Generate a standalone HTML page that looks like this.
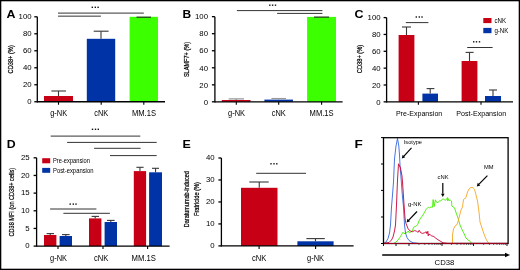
<!DOCTYPE html>
<html><head><meta charset="utf-8"><style>
html,body{margin:0;padding:0;background:#fff;}
svg{display:block;will-change:transform;}
text{font-family:'Liberation Sans',sans-serif;}
</style></head><body>
<svg width="520" height="270" viewBox="0 0 520 270" style="font-family:'Liberation Sans',sans-serif">
<rect x="0" y="0" width="520" height="270" fill="#fff"/>
<text x="6.6" y="18.2" font-size="10.8" font-weight="bold" textLength="9.0" lengthAdjust="spacingAndGlyphs" fill="#000">A</text>
<rect x="44" y="96" width="29" height="5.75" fill="#c70016"/>
<line x1="58.5" y1="91" x2="58.5" y2="96" stroke="#383838" stroke-width="1.1"/>
<line x1="51.4" y1="91" x2="66" y2="91" stroke="#383838" stroke-width="1.1"/>
<rect x="86.8" y="38.8" width="28.4" height="62.95" fill="#0033a5"/>
<line x1="101.0" y1="31.2" x2="101.0" y2="38.8" stroke="#383838" stroke-width="1.1"/>
<line x1="93.7" y1="31.2" x2="108.6" y2="31.2" stroke="#383838" stroke-width="1.1"/>
<rect x="129.6" y="16.8" width="28.4" height="84.95" fill="#3cff00"/>
<line x1="136.5" y1="17.2" x2="151" y2="17.2" stroke="#222" stroke-width="1.1"/>
<line x1="58" y1="13.1" x2="143.8" y2="13.1" stroke="#333" stroke-width="1"/>
<line x1="58" y1="16.15" x2="100.9" y2="16.15" stroke="#333" stroke-width="1"/>
<rect x="91.60" y="6.60" width="1.4" height="1.4" fill="#111"/>
<rect x="94.60" y="6.60" width="1.4" height="1.4" fill="#111"/>
<rect x="97.40" y="6.60" width="1.4" height="1.4" fill="#111"/>
<text x="58.7" y="116.2" font-size="8.5" text-anchor="middle" textLength="17" lengthAdjust="spacingAndGlyphs" fill="#000">g-NK</text>
<text x="101.2" y="116.2" font-size="8.5" text-anchor="middle" textLength="14" lengthAdjust="spacingAndGlyphs" fill="#000">cNK</text>
<text x="144" y="116.2" font-size="8.5" text-anchor="middle" textLength="24" lengthAdjust="spacingAndGlyphs" fill="#000">MM.1S</text>
<text x="13.2" y="59.3" font-size="7" text-anchor="middle" textLength="28.2" lengthAdjust="spacingAndGlyphs" transform="rotate(-90 13.2 59.3)" fill="#000" stroke="#000" stroke-width="0.22">CD38+ (%)</text>
<text x="182.5" y="18.2" font-size="10.8" font-weight="bold" textLength="8.7" lengthAdjust="spacingAndGlyphs" fill="#000">B</text>
<rect x="221.8" y="100.0" width="28.7" height="1.8" fill="#c70016"/>
<line x1="236.15" y1="98.9" x2="236.15" y2="100.0" stroke="#888" stroke-width="1.1"/>
<line x1="228.7" y1="98.9" x2="244" y2="98.9" stroke="#888" stroke-width="1.1"/>
<rect x="264.4" y="99.6" width="28.6" height="2.2" fill="#0033a5"/>
<line x1="278.7" y1="98.5" x2="278.7" y2="99.6" stroke="#999" stroke-width="1.1"/>
<line x1="271.4" y1="98.5" x2="286" y2="98.5" stroke="#999" stroke-width="1.1"/>
<rect x="307.1" y="16.9" width="28.9" height="84.9" fill="#3cff00"/>
<line x1="314" y1="17.1" x2="329.1" y2="17.1" stroke="#222" stroke-width="1.1"/>
<line x1="236.9" y1="10.6" x2="322.4" y2="10.6" stroke="#333" stroke-width="1"/>
<line x1="277.1" y1="13.4" x2="322.4" y2="13.4" stroke="#333" stroke-width="1"/>
<rect x="269.10" y="4.50" width="1.4" height="1.4" fill="#111"/>
<rect x="271.90" y="4.50" width="1.4" height="1.4" fill="#111"/>
<rect x="274.80" y="4.50" width="1.4" height="1.4" fill="#111"/>
<text x="236.5" y="116.2" font-size="8.5" text-anchor="middle" textLength="17" lengthAdjust="spacingAndGlyphs" fill="#000">g-NK</text>
<text x="278.8" y="116.2" font-size="8.5" text-anchor="middle" textLength="14" lengthAdjust="spacingAndGlyphs" fill="#000">cNK</text>
<text x="321.6" y="116.2" font-size="8.5" text-anchor="middle" textLength="24" lengthAdjust="spacingAndGlyphs" fill="#000">MM.1S</text>
<text x="189.0" y="59.5" font-size="6.9" text-anchor="middle" textLength="35.2" lengthAdjust="spacingAndGlyphs" transform="rotate(-90 189.0 59.5)" fill="#000" stroke="#000" stroke-width="0.22">SLAMF7+ (%)</text>
<text x="354.6" y="18.2" font-size="10.8" font-weight="bold" textLength="9.0" lengthAdjust="spacingAndGlyphs" fill="#000">C</text>
<rect x="398.6" y="35" width="15.8" height="66.85" fill="#c70016"/>
<line x1="406.5" y1="27" x2="406.5" y2="35" stroke="#383838" stroke-width="1.1"/>
<line x1="402" y1="27" x2="411" y2="27" stroke="#383838" stroke-width="1.1"/>
<rect x="422.4" y="93.6" width="15.6" height="8.25" fill="#0033a5"/>
<line x1="430.2" y1="88.6" x2="430.2" y2="93.6" stroke="#383838" stroke-width="1.1"/>
<line x1="426.6" y1="88.6" x2="434.4" y2="88.6" stroke="#383838" stroke-width="1.1"/>
<rect x="461.6" y="61" width="15.8" height="40.85" fill="#c70016"/>
<line x1="469.5" y1="52.4" x2="469.5" y2="61" stroke="#383838" stroke-width="1.1"/>
<line x1="465.6" y1="52.4" x2="473.6" y2="52.4" stroke="#383838" stroke-width="1.1"/>
<rect x="485" y="96" width="16" height="5.85" fill="#0033a5"/>
<line x1="493.0" y1="90" x2="493.0" y2="96" stroke="#383838" stroke-width="1.1"/>
<line x1="489" y1="90" x2="497" y2="90" stroke="#383838" stroke-width="1.1"/>
<line x1="405.8" y1="22.6" x2="428.4" y2="22.6" stroke="#333" stroke-width="1"/>
<rect x="415.60" y="16.30" width="1.4" height="1.4" fill="#111"/>
<rect x="418.60" y="16.30" width="1.4" height="1.4" fill="#111"/>
<rect x="421.30" y="16.30" width="1.4" height="1.4" fill="#111"/>
<line x1="467.2" y1="47.5" x2="492.6" y2="47.5" stroke="#333" stroke-width="1"/>
<rect x="473.00" y="41.10" width="1.4" height="1.4" fill="#111"/>
<rect x="475.80" y="41.10" width="1.4" height="1.4" fill="#111"/>
<rect x="478.80" y="41.10" width="1.4" height="1.4" fill="#111"/>
<rect x="483.3" y="18.0" width="8.2" height="5.1" fill="#c70016"/>
<rect x="483.3" y="27.9" width="8.2" height="5.3" fill="#0033a5"/>
<text x="494.4" y="23.2" font-size="6.8" textLength="11.6" lengthAdjust="spacingAndGlyphs" fill="#000">cNK</text>
<text x="494.4" y="33.2" font-size="6.8" textLength="14" lengthAdjust="spacingAndGlyphs" fill="#000">g-NK</text>
<text x="419.1" y="116.1" font-size="7.4" text-anchor="middle" textLength="46.4" lengthAdjust="spacingAndGlyphs" fill="#000">Pre-Expansion</text>
<text x="481.2" y="116.1" font-size="7.4" text-anchor="middle" textLength="49.8" lengthAdjust="spacingAndGlyphs" fill="#000">Post-Expansion</text>
<text x="362.3" y="59.0" font-size="7" text-anchor="middle" textLength="28.4" lengthAdjust="spacingAndGlyphs" transform="rotate(-90 362.3 59.0)" fill="#000" stroke="#000" stroke-width="0.22">CD38+ (%)</text>
<text x="6.7" y="148.2" font-size="10.8" font-weight="bold" textLength="8.9" lengthAdjust="spacingAndGlyphs" fill="#000">D</text>
<rect x="44" y="235" width="12.4" height="11.1" fill="#c70016"/>
<line x1="50.2" y1="233.6" x2="50.2" y2="235" stroke="#383838" stroke-width="1.1"/>
<line x1="46.6" y1="233.6" x2="54" y2="233.6" stroke="#383838" stroke-width="1.1"/>
<rect x="59.6" y="236" width="12.4" height="10.1" fill="#0033a5"/>
<line x1="65.8" y1="234.6" x2="65.8" y2="236" stroke="#383838" stroke-width="1.1"/>
<line x1="62" y1="234.6" x2="69.6" y2="234.6" stroke="#383838" stroke-width="1.1"/>
<rect x="89" y="218.4" width="12.4" height="27.7" fill="#c70016"/>
<line x1="95.2" y1="216.4" x2="95.2" y2="218.4" stroke="#383838" stroke-width="1.1"/>
<line x1="91.6" y1="216.4" x2="99" y2="216.4" stroke="#383838" stroke-width="1.1"/>
<rect x="104.6" y="222" width="12.4" height="24.1" fill="#0033a5"/>
<line x1="110.8" y1="220.4" x2="110.8" y2="222" stroke="#383838" stroke-width="1.1"/>
<line x1="107" y1="220.4" x2="114.6" y2="220.4" stroke="#383838" stroke-width="1.1"/>
<rect x="133.8" y="171.1" width="12.3" height="75.0" fill="#c70016"/>
<line x1="139.95" y1="167.3" x2="139.95" y2="171.1" stroke="#383838" stroke-width="1.1"/>
<line x1="136.4" y1="167.3" x2="143.6" y2="167.3" stroke="#383838" stroke-width="1.1"/>
<rect x="149.1" y="172.3" width="12.9" height="73.8" fill="#0033a5"/>
<line x1="155.55" y1="168.3" x2="155.55" y2="172.3" stroke="#383838" stroke-width="1.1"/>
<line x1="152" y1="168.3" x2="159" y2="168.3" stroke="#383838" stroke-width="1.1"/>
<rect x="91.80" y="128.60" width="1.4" height="1.4" fill="#111"/>
<rect x="94.80" y="128.60" width="1.4" height="1.4" fill="#111"/>
<rect x="97.60" y="128.60" width="1.4" height="1.4" fill="#111"/>
<line x1="50.7" y1="136.1" x2="140.3" y2="136.1" stroke="#333" stroke-width="1"/>
<line x1="67.1" y1="142.4" x2="156.7" y2="142.4" stroke="#333" stroke-width="1"/>
<line x1="94.1" y1="148.3" x2="140.6" y2="148.3" stroke="#333" stroke-width="1"/>
<line x1="110" y1="155.6" x2="156.7" y2="155.6" stroke="#333" stroke-width="1"/>
<rect x="69.50" y="203.40" width="1.4" height="1.4" fill="#111"/>
<rect x="72.60" y="203.40" width="1.4" height="1.4" fill="#111"/>
<rect x="75.30" y="203.40" width="1.4" height="1.4" fill="#111"/>
<line x1="50.1" y1="209.0" x2="96.4" y2="209.0" stroke="#333" stroke-width="1"/>
<line x1="63.4" y1="213.3" x2="109.9" y2="213.3" stroke="#333" stroke-width="1"/>
<rect x="42.2" y="158.2" width="8.0" height="5.1" fill="#c70016"/>
<rect x="42.2" y="167.9" width="8.0" height="4.9" fill="#0033a5"/>
<text x="53" y="163.2" font-size="6.6" textLength="37" lengthAdjust="spacingAndGlyphs" fill="#000">Pre-expansion</text>
<text x="53" y="172.8" font-size="6.6" textLength="40.4" lengthAdjust="spacingAndGlyphs" fill="#000">Post-expansion</text>
<text x="58.5" y="261.4" font-size="8.5" text-anchor="middle" textLength="17" lengthAdjust="spacingAndGlyphs" fill="#000">g-NK</text>
<text x="101.2" y="261.4" font-size="8.5" text-anchor="middle" textLength="14.4" lengthAdjust="spacingAndGlyphs" fill="#000">cNK</text>
<text x="143.8" y="261.4" font-size="8.5" text-anchor="middle" textLength="24.4" lengthAdjust="spacingAndGlyphs" fill="#000">MM.1S</text>
<text x="13.9" y="202.2" font-size="7" text-anchor="middle" textLength="68.6" lengthAdjust="spacingAndGlyphs" transform="rotate(-90 13.9 202.2)" fill="#000" stroke="#000" stroke-width="0.22">CD38 MFI (on CD38+ cells)</text>
<text x="182.5" y="148.2" font-size="10.8" font-weight="bold" textLength="8.3" lengthAdjust="spacingAndGlyphs" fill="#000">E</text>
<rect x="241" y="187.8" width="36.5" height="58.1" fill="#c70016"/>
<line x1="259.25" y1="182.0" x2="259.25" y2="187.8" stroke="#383838" stroke-width="1.1"/>
<line x1="249.3" y1="182.0" x2="268.7" y2="182.0" stroke="#383838" stroke-width="1.1"/>
<rect x="297.4" y="241.3" width="36.2" height="4.6" fill="#0033a5"/>
<line x1="315.5" y1="238.6" x2="315.5" y2="241.3" stroke="#383838" stroke-width="1.1"/>
<line x1="306.4" y1="238.6" x2="324.8" y2="238.6" stroke="#383838" stroke-width="1.1"/>
<line x1="256.2" y1="173.3" x2="306" y2="173.3" stroke="#333" stroke-width="1"/>
<rect x="270.30" y="163.10" width="1.4" height="1.4" fill="#111"/>
<rect x="273.30" y="163.10" width="1.4" height="1.4" fill="#111"/>
<rect x="276.10" y="163.10" width="1.4" height="1.4" fill="#111"/>
<text x="259.2" y="261.4" font-size="8.5" text-anchor="middle" textLength="14.4" lengthAdjust="spacingAndGlyphs" fill="#000">cNK</text>
<text x="315.5" y="261.4" font-size="8.5" text-anchor="middle" textLength="17" lengthAdjust="spacingAndGlyphs" fill="#000">g-NK</text>
<text x="188.8" y="199.2" font-size="6.6" text-anchor="middle" textLength="56" lengthAdjust="spacingAndGlyphs" transform="rotate(-90 188.8 199.2)" fill="#000" stroke="#000" stroke-width="0.22">Daratumumab-induced</text>
<text x="199.2" y="199" font-size="6.6" text-anchor="middle" textLength="34" lengthAdjust="spacingAndGlyphs" transform="rotate(-90 199.2 199)" fill="#000" stroke="#000" stroke-width="0.22">Fratricide (%)</text>
<text x="354.6" y="148.2" font-size="10.8" font-weight="bold" textLength="8.3" lengthAdjust="spacingAndGlyphs" fill="#000">F</text>
<polyline points="394,243.3 396,242 398,240 400.5,236.5 403,232.2 404,233.6 406.8,232.7 408.2,231 409.5,233.1 410.9,231.7 412.3,231 413.7,227.2 415.1,226.5 416.5,225.8 417.9,224.1 418.5,222 420,219 423,215 426.2,209.3 428.3,207.2 429.7,207.9 431.1,206.9 432.5,207.2 433.1,199.6 434.1,206.6 435.4,199.8 436.6,202.4 438,202.7 439.4,200.7 440.8,201 442.2,199.3 443.5,198.9 444.9,200.3 446.3,199.6 447.4,197.5 447.7,201 448.4,198.6 449.1,200.7 450.5,200.3 451.5,201 451.9,205.9 452.9,206.9 454.6,207.9 455.5,211 458,218 460,225 462,229.5 464,233.5 466,238 468,240 470,241.2 471.5,243.3" fill="none" stroke="#44ee00" stroke-width="0.9" stroke-linejoin="round"/>
<polyline points="452.5,243.3 452.5,235 453.5,229 455,226 457,224.5 458.5,220 460,214 461,210 462.5,207 463.5,199.5 466,197.5 467.5,192 469,189 471,187.4 473,187.6 474.5,189.5 475.5,193 476.5,197 477.5,201 478.2,206 479,212 480,222 482,228 484,234 486,239 488,242.5 489,243.3" fill="none" stroke="#f5a623" stroke-width="0.9" stroke-linejoin="round"/>
<polyline points="384,243.3 386,242 388,238.5 389.5,233 390.5,225 391.5,207 392.5,195 393.5,182 394.5,159 396,146 397.5,138.4 398.8,146 399.5,155 400,165 401.2,180 402.3,195 403.5,207 404.5,225 405.5,233 407,237.5 409,240.5 413,242.8 418,243.3" fill="none" stroke="#3366dd" stroke-width="0.9" stroke-linejoin="round"/>
<polyline points="384,243.3 389,242.5 391.5,240 393,237 394.5,231 395.5,225 396.5,205 397.5,180 398.5,163.8 400.5,168 402,176 402.5,182 404.2,207 405,218 405.6,222.5 408.2,228.9 410.2,231 412.3,231.7 414.4,230.7 416.5,231 417.9,232.4 419.2,230.3 420.6,232.7 422.7,233.4 424.8,232.7 426.2,231.7 426.9,233.8 427.9,231.3 428.2,235.9 428.9,234.1 430.3,234.8 431.7,235.9 433.8,236.5 435.9,238.3 437.9,239.7 440,241 443,242.8 448,243.3 508,243.3" fill="none" stroke="#cc0033" stroke-width="0.9" stroke-linejoin="round"/>
<rect x="383.5" y="137.7" width="124.6" height="105.8" fill="none" stroke="#000" stroke-width="1.3"/>
<line x1="384.2" y1="243.5" x2="507.5" y2="243.5" stroke="#a0001c" stroke-width="1.2"/>
<line x1="381" y1="137.6" x2="383.5" y2="137.6" stroke="#000" stroke-width="1"/>
<line x1="381" y1="164" x2="383.5" y2="164" stroke="#000" stroke-width="1"/>
<line x1="381" y1="190.4" x2="383.5" y2="190.4" stroke="#000" stroke-width="1"/>
<line x1="381" y1="217" x2="383.5" y2="217" stroke="#000" stroke-width="1"/>
<line x1="381" y1="243.5" x2="383.5" y2="243.5" stroke="#000" stroke-width="1"/>
<line x1="383.5" y1="243.5" x2="383.5" y2="246" stroke="#000" stroke-width="0.9"/>
<line x1="396" y1="243.5" x2="396" y2="246" stroke="#000" stroke-width="0.9"/>
<line x1="409" y1="243.5" x2="409" y2="246" stroke="#000" stroke-width="0.9"/>
<line x1="442" y1="243.5" x2="442" y2="246" stroke="#000" stroke-width="0.9"/>
<line x1="473.5" y1="243.5" x2="473.5" y2="246" stroke="#000" stroke-width="0.9"/>
<line x1="507" y1="243.5" x2="507" y2="246" stroke="#000" stroke-width="0.9"/>
<line x1="418.93" y1="243.5" x2="418.93" y2="245" stroke="#333" stroke-width="0.7"/>
<line x1="424.75" y1="243.5" x2="424.75" y2="245" stroke="#333" stroke-width="0.7"/>
<line x1="428.87" y1="243.5" x2="428.87" y2="245" stroke="#333" stroke-width="0.7"/>
<line x1="432.07" y1="243.5" x2="432.07" y2="245" stroke="#333" stroke-width="0.7"/>
<line x1="434.68" y1="243.5" x2="434.68" y2="245" stroke="#333" stroke-width="0.7"/>
<line x1="436.89" y1="243.5" x2="436.89" y2="245" stroke="#333" stroke-width="0.7"/>
<line x1="438.8" y1="243.5" x2="438.8" y2="245" stroke="#333" stroke-width="0.7"/>
<line x1="440.49" y1="243.5" x2="440.49" y2="245" stroke="#333" stroke-width="0.7"/>
<line x1="451.48" y1="243.5" x2="451.48" y2="245" stroke="#333" stroke-width="0.7"/>
<line x1="457.03" y1="243.5" x2="457.03" y2="245" stroke="#333" stroke-width="0.7"/>
<line x1="460.96" y1="243.5" x2="460.96" y2="245" stroke="#333" stroke-width="0.7"/>
<line x1="464.02" y1="243.5" x2="464.02" y2="245" stroke="#333" stroke-width="0.7"/>
<line x1="466.51" y1="243.5" x2="466.51" y2="245" stroke="#333" stroke-width="0.7"/>
<line x1="468.62" y1="243.5" x2="468.62" y2="245" stroke="#333" stroke-width="0.7"/>
<line x1="470.45" y1="243.5" x2="470.45" y2="245" stroke="#333" stroke-width="0.7"/>
<line x1="472.06" y1="243.5" x2="472.06" y2="245" stroke="#333" stroke-width="0.7"/>
<line x1="483.58" y1="243.5" x2="483.58" y2="245" stroke="#333" stroke-width="0.7"/>
<line x1="489.48" y1="243.5" x2="489.48" y2="245" stroke="#333" stroke-width="0.7"/>
<line x1="493.67" y1="243.5" x2="493.67" y2="245" stroke="#333" stroke-width="0.7"/>
<line x1="496.92" y1="243.5" x2="496.92" y2="245" stroke="#333" stroke-width="0.7"/>
<line x1="499.57" y1="243.5" x2="499.57" y2="245" stroke="#333" stroke-width="0.7"/>
<line x1="501.81" y1="243.5" x2="501.81" y2="245" stroke="#333" stroke-width="0.7"/>
<line x1="503.75" y1="243.5" x2="503.75" y2="245" stroke="#333" stroke-width="0.7"/>
<line x1="505.47" y1="243.5" x2="505.47" y2="245" stroke="#333" stroke-width="0.7"/>
<line x1="382.2" y1="255.0" x2="506" y2="255.0" stroke="#000" stroke-width="1.4"/>
<path d="M510,255.0 L505,252.7 L505,257.3 Z" fill="#000"/>
<text x="444.5" y="265.3" font-size="7.4" text-anchor="middle" textLength="19.8" lengthAdjust="spacingAndGlyphs" fill="#000">CD38</text>
<text x="403.8" y="144.3" font-size="6.2" textLength="18.2" lengthAdjust="spacingAndGlyphs" fill="#000">Isotype</text>
<text x="408" y="206.4" font-size="6.0" textLength="13.4" lengthAdjust="spacingAndGlyphs" fill="#000">g-NK</text>
<text x="437.6" y="178.8" font-size="5.9" textLength="11" lengthAdjust="spacingAndGlyphs" fill="#000">cNK</text>
<text x="484" y="169.2" font-size="5.9" textLength="9.6" lengthAdjust="spacingAndGlyphs" fill="#000">MM</text>
<line x1="411.5" y1="147.8" x2="403.96" y2="156.04" stroke="#000" stroke-width="1.2"/>
<path d="M401.80,158.40 L402.63,154.82 L405.29,157.25 Z" fill="#000"/>
<line x1="417" y1="211.5" x2="408.81" y2="220.08" stroke="#000" stroke-width="1.2"/>
<path d="M406.60,222.40 L407.51,218.84 L410.11,221.33 Z" fill="#000"/>
<line x1="442.8" y1="183" x2="442.8" y2="193.8" stroke="#000" stroke-width="1.2"/>
<path d="M442.80,197.00 L441.00,193.80 L444.60,193.80 Z" fill="#000"/>
<line x1="487.4" y1="175.6" x2="479.04" y2="184.12" stroke="#000" stroke-width="1.2"/>
<path d="M476.80,186.40 L477.76,182.86 L480.33,185.38 Z" fill="#000"/>
<rect x="0" y="0" width="520" height="270" fill="none" stroke="#000" stroke-width="2.6"/>
<line x1="37.3" y1="16.8" x2="37.3" y2="102.4" stroke="#000" stroke-width="1.3"/>
<line x1="34.3" y1="16.8" x2="37.3" y2="16.8" stroke="#000" stroke-width="1.3"/>
<text x="31.6" y="19.4" font-size="7.8" text-anchor="end" fill="#000">100</text>
<line x1="34.3" y1="33.79" x2="37.3" y2="33.79" stroke="#000" stroke-width="1.3"/>
<text x="31.6" y="36.39" font-size="7.8" text-anchor="end" fill="#000">80</text>
<line x1="34.3" y1="50.78" x2="37.3" y2="50.78" stroke="#000" stroke-width="1.3"/>
<text x="31.6" y="53.38" font-size="7.8" text-anchor="end" fill="#000">60</text>
<line x1="34.3" y1="67.77" x2="37.3" y2="67.77" stroke="#000" stroke-width="1.3"/>
<text x="31.6" y="70.37" font-size="7.8" text-anchor="end" fill="#000">40</text>
<line x1="34.3" y1="84.76" x2="37.3" y2="84.76" stroke="#000" stroke-width="1.3"/>
<text x="31.6" y="87.36" font-size="7.8" text-anchor="end" fill="#000">20</text>
<line x1="34.3" y1="101.75" x2="37.3" y2="101.75" stroke="#000" stroke-width="1.3"/>
<text x="31.6" y="104.35" font-size="7.8" text-anchor="end" fill="#000">0</text>
<line x1="37.3" y1="101.75" x2="165" y2="101.75" stroke="#000" stroke-width="1.3"/>
<line x1="58.5" y1="101.75" x2="58.5" y2="104.75" stroke="#000" stroke-width="1.1"/>
<line x1="101.2" y1="101.75" x2="101.2" y2="104.75" stroke="#000" stroke-width="1.1"/>
<line x1="143.8" y1="101.75" x2="143.8" y2="104.75" stroke="#000" stroke-width="1.1"/>
<line x1="214.9" y1="16.65" x2="214.9" y2="102.45" stroke="#000" stroke-width="1.3"/>
<line x1="211.9" y1="16.65" x2="214.9" y2="16.65" stroke="#000" stroke-width="1.3"/>
<text x="208" y="19.35" font-size="7.8" text-anchor="end" fill="#000">100</text>
<line x1="211.9" y1="33.7" x2="214.9" y2="33.7" stroke="#000" stroke-width="1.3"/>
<text x="208" y="36.4" font-size="7.8" text-anchor="end" fill="#000">80</text>
<line x1="211.9" y1="50.75" x2="214.9" y2="50.75" stroke="#000" stroke-width="1.3"/>
<text x="208" y="53.45" font-size="7.8" text-anchor="end" fill="#000">60</text>
<line x1="211.9" y1="67.8" x2="214.9" y2="67.8" stroke="#000" stroke-width="1.3"/>
<text x="208" y="70.5" font-size="7.8" text-anchor="end" fill="#000">40</text>
<line x1="211.9" y1="84.85" x2="214.9" y2="84.85" stroke="#000" stroke-width="1.3"/>
<text x="208" y="87.55" font-size="7.8" text-anchor="end" fill="#000">20</text>
<line x1="211.9" y1="101.8" x2="214.9" y2="101.8" stroke="#000" stroke-width="1.3"/>
<text x="208" y="104.5" font-size="7.8" text-anchor="end" fill="#000">0</text>
<line x1="214.9" y1="101.8" x2="342.6" y2="101.8" stroke="#000" stroke-width="1.3"/>
<line x1="236.3" y1="101.8" x2="236.3" y2="104.8" stroke="#000" stroke-width="1.1"/>
<line x1="278.7" y1="101.8" x2="278.7" y2="104.8" stroke="#000" stroke-width="1.1"/>
<line x1="321.6" y1="101.8" x2="321.6" y2="104.8" stroke="#000" stroke-width="1.1"/>
<line x1="386.6" y1="17.6" x2="386.6" y2="102.5" stroke="#000" stroke-width="1.3"/>
<line x1="383.6" y1="17.6" x2="386.6" y2="17.6" stroke="#000" stroke-width="1.3"/>
<text x="380.6" y="20.4" font-size="7.8" text-anchor="end" fill="#000">100</text>
<line x1="383.6" y1="34.45" x2="386.6" y2="34.45" stroke="#000" stroke-width="1.3"/>
<text x="380.6" y="37.25" font-size="7.8" text-anchor="end" fill="#000">80</text>
<line x1="383.6" y1="51.3" x2="386.6" y2="51.3" stroke="#000" stroke-width="1.3"/>
<text x="380.6" y="54.1" font-size="7.8" text-anchor="end" fill="#000">60</text>
<line x1="383.6" y1="68.15" x2="386.6" y2="68.15" stroke="#000" stroke-width="1.3"/>
<text x="380.6" y="70.95" font-size="7.8" text-anchor="end" fill="#000">40</text>
<line x1="383.6" y1="85.0" x2="386.6" y2="85.0" stroke="#000" stroke-width="1.3"/>
<text x="380.6" y="87.8" font-size="7.8" text-anchor="end" fill="#000">20</text>
<line x1="383.6" y1="101.85" x2="386.6" y2="101.85" stroke="#000" stroke-width="1.3"/>
<text x="380.6" y="104.65" font-size="7.8" text-anchor="end" fill="#000">0</text>
<line x1="386.6" y1="101.85" x2="513" y2="101.85" stroke="#000" stroke-width="1.3"/>
<line x1="418.4" y1="101.85" x2="418.4" y2="104.85" stroke="#000" stroke-width="1.1"/>
<line x1="481" y1="101.85" x2="481" y2="104.85" stroke="#000" stroke-width="1.1"/>
<line x1="36.6" y1="157.8" x2="36.6" y2="246.75" stroke="#000" stroke-width="1.3"/>
<line x1="33.6" y1="157.8" x2="36.6" y2="157.8" stroke="#000" stroke-width="1.3"/>
<text x="29.6" y="160.1" font-size="7.8" text-anchor="end" fill="#000">25</text>
<line x1="33.6" y1="175.46" x2="36.6" y2="175.46" stroke="#000" stroke-width="1.3"/>
<text x="29.6" y="177.76" font-size="7.8" text-anchor="end" fill="#000">20</text>
<line x1="33.6" y1="193.12" x2="36.6" y2="193.12" stroke="#000" stroke-width="1.3"/>
<text x="29.6" y="195.42" font-size="7.8" text-anchor="end" fill="#000">15</text>
<line x1="33.6" y1="210.78" x2="36.6" y2="210.78" stroke="#000" stroke-width="1.3"/>
<text x="29.6" y="213.08" font-size="7.8" text-anchor="end" fill="#000">10</text>
<line x1="33.6" y1="228.44" x2="36.6" y2="228.44" stroke="#000" stroke-width="1.3"/>
<text x="29.6" y="230.74" font-size="7.8" text-anchor="end" fill="#000">5</text>
<line x1="33.6" y1="246.1" x2="36.6" y2="246.1" stroke="#000" stroke-width="1.3"/>
<text x="29.6" y="248.4" font-size="7.8" text-anchor="end" fill="#000">0</text>
<line x1="36.6" y1="246.1" x2="169.6" y2="246.1" stroke="#000" stroke-width="1.3"/>
<line x1="58" y1="246.1" x2="58" y2="249.1" stroke="#000" stroke-width="1.1"/>
<line x1="103" y1="246.1" x2="103" y2="249.1" stroke="#000" stroke-width="1.1"/>
<line x1="147.6" y1="246.1" x2="147.6" y2="249.1" stroke="#000" stroke-width="1.1"/>
<line x1="221.4" y1="158" x2="221.4" y2="246.55" stroke="#000" stroke-width="1.3"/>
<line x1="218.4" y1="158" x2="221.4" y2="158" stroke="#000" stroke-width="1.3"/>
<text x="214.6" y="160.3" font-size="7.8" text-anchor="end" fill="#000">40</text>
<line x1="218.4" y1="179.97" x2="221.4" y2="179.97" stroke="#000" stroke-width="1.3"/>
<text x="214.6" y="182.27" font-size="7.8" text-anchor="end" fill="#000">30</text>
<line x1="218.4" y1="201.95" x2="221.4" y2="201.95" stroke="#000" stroke-width="1.3"/>
<text x="214.6" y="204.25" font-size="7.8" text-anchor="end" fill="#000">20</text>
<line x1="218.4" y1="223.92" x2="221.4" y2="223.92" stroke="#000" stroke-width="1.3"/>
<text x="214.6" y="226.22" font-size="7.8" text-anchor="end" fill="#000">10</text>
<line x1="218.4" y1="245.9" x2="221.4" y2="245.9" stroke="#000" stroke-width="1.3"/>
<text x="214.6" y="248.2" font-size="7.8" text-anchor="end" fill="#000">0</text>
<line x1="221.4" y1="245.9" x2="353.6" y2="245.9" stroke="#000" stroke-width="1.3"/>
<line x1="259.1" y1="245.9" x2="259.1" y2="248.9" stroke="#000" stroke-width="1.1"/>
<line x1="315.6" y1="245.9" x2="315.6" y2="248.9" stroke="#000" stroke-width="1.1"/>
</svg>
</body></html>
